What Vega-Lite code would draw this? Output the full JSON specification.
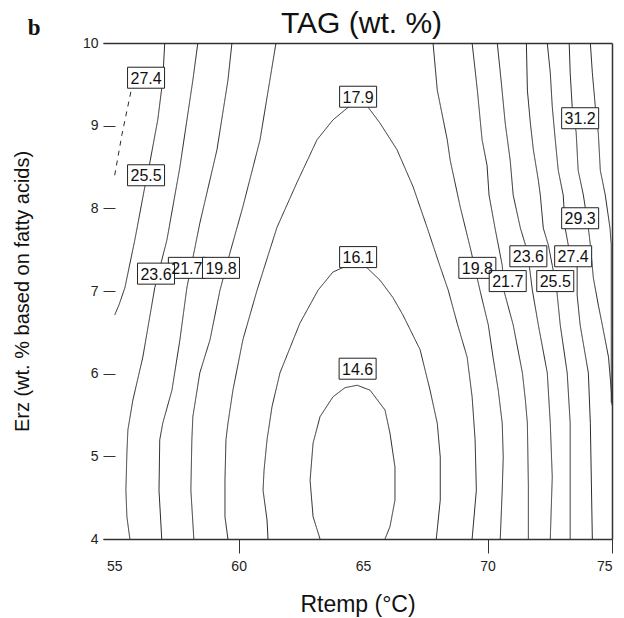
{
  "$schema": "https://vega.github.io/schema/vega-lite/v6.json",
  "width": 509,
  "height": 496,
  "autosize": {"type": "none"},
  "padding": {"left": 103, "top": 43, "right": 12, "bottom": 79},
  "background": "white",
  "config": {"view": {"stroke": null}, "font": "Liberation Sans"},
  "title": {"text": "TAG (wt. %)", "fontSize": 30, "fontWeight": "normal", "font": "Liberation Sans", "color": "#111", "offset": -22, "anchor": "middle", "frame": "group", "dx": 4},
  "datasets": {
    "contours": [
      {"id": "27.4L", "i": 0, "x": 55.02, "y": 8.40}, {"id": "27.4L", "i": 1, "x": 55.31, "y": 8.89}, {"id": "27.4L", "i": 2, "x": 55.67, "y": 9.41}, {"id": "27.4L", "i": 3, "x": 55.87, "y": 9.65},
      {"id": "25.5L", "i": 0, "x": 57.03, "y": 10.0}, {"id": "25.5L", "i": 1, "x": 56.95, "y": 9.55}, {"id": "25.5L", "i": 2, "x": 56.75, "y": 9.07}, {"id": "25.5L", "i": 3, "x": 56.43, "y": 8.55}, {"id": "25.5L", "i": 4, "x": 56.23, "y": 8.26}, {"id": "25.5L", "i": 5, "x": 55.83, "y": 7.62}, {"id": "25.5L", "i": 6, "x": 55.43, "y": 7.04}, {"id": "25.5L", "i": 7, "x": 55.19, "y": 6.83}, {"id": "25.5L", "i": 8, "x": 55.02, "y": 6.71},
      {"id": "23.6L", "i": 0, "x": 58.36, "y": 10.0}, {"id": "23.6L", "i": 1, "x": 58.16, "y": 9.55}, {"id": "23.6L", "i": 2, "x": 57.64, "y": 8.50}, {"id": "23.6L", "i": 3, "x": 57.12, "y": 7.62}, {"id": "23.6L", "i": 4, "x": 56.63, "y": 7.04}, {"id": "23.6L", "i": 5, "x": 56.15, "y": 6.20}, {"id": "23.6L", "i": 6, "x": 55.75, "y": 5.68}, {"id": "23.6L", "i": 7, "x": 55.55, "y": 5.32}, {"id": "23.6L", "i": 8, "x": 55.51, "y": 5.04}, {"id": "23.6L", "i": 9, "x": 55.47, "y": 4.59}, {"id": "23.6L", "i": 10, "x": 55.51, "y": 4.27}, {"id": "23.6L", "i": 11, "x": 55.63, "y": 4.0},
      {"id": "21.7L", "i": 0, "x": 59.73, "y": 10.0}, {"id": "21.7L", "i": 1, "x": 59.57, "y": 9.55}, {"id": "21.7L", "i": 2, "x": 59.13, "y": 8.71}, {"id": "21.7L", "i": 3, "x": 58.44, "y": 7.82}, {"id": "21.7L", "i": 4, "x": 57.92, "y": 7.04}, {"id": "21.7L", "i": 5, "x": 57.64, "y": 6.41}, {"id": "21.7L", "i": 6, "x": 57.32, "y": 5.80}, {"id": "21.7L", "i": 7, "x": 56.95, "y": 5.40}, {"id": "21.7L", "i": 8, "x": 56.83, "y": 5.20}, {"id": "21.7L", "i": 9, "x": 56.80, "y": 4.59}, {"id": "21.7L", "i": 10, "x": 56.91, "y": 4.0},
      {"id": "19.8L", "i": 0, "x": 61.50, "y": 10.0}, {"id": "19.8L", "i": 1, "x": 60.86, "y": 8.83}, {"id": "19.8L", "i": 2, "x": 60.17, "y": 8.02}, {"id": "19.8L", "i": 3, "x": 59.65, "y": 7.46}, {"id": "19.8L", "i": 4, "x": 59.25, "y": 7.01}, {"id": "19.8L", "i": 5, "x": 58.85, "y": 6.41}, {"id": "19.8L", "i": 6, "x": 58.44, "y": 6.01}, {"id": "19.8L", "i": 7, "x": 58.16, "y": 5.48}, {"id": "19.8L", "i": 8, "x": 58.12, "y": 5.20}, {"id": "19.8L", "i": 9, "x": 58.08, "y": 4.59}, {"id": "19.8L", "i": 10, "x": 58.20, "y": 4.0},
      {"id": "17.9", "i": 0, "x": 59.57, "y": 4.0}, {"id": "17.9", "i": 1, "x": 59.45, "y": 4.27}, {"id": "17.9", "i": 2, "x": 59.45, "y": 4.71}, {"id": "17.9", "i": 3, "x": 59.49, "y": 5.20}, {"id": "17.9", "i": 4, "x": 59.57, "y": 5.40}, {"id": "17.9", "i": 5, "x": 59.77, "y": 5.80}, {"id": "17.9", "i": 6, "x": 60.17, "y": 6.41}, {"id": "17.9", "i": 7, "x": 60.74, "y": 7.01}, {"id": "17.9", "i": 8, "x": 61.54, "y": 7.77}, {"id": "17.9", "i": 9, "x": 62.34, "y": 8.31}, {"id": "17.9", "i": 10, "x": 63.15, "y": 8.83}, {"id": "17.9", "i": 11, "x": 63.79, "y": 9.07}, {"id": "17.9", "i": 12, "x": 64.35, "y": 9.21}, {"id": "17.9", "i": 13, "x": 64.76, "y": 9.29}, {"id": "17.9", "i": 14, "x": 65.16, "y": 9.24}, {"id": "17.9", "i": 15, "x": 65.68, "y": 9.03}, {"id": "17.9", "i": 16, "x": 66.36, "y": 8.71}, {"id": "17.9", "i": 17, "x": 67.01, "y": 8.26}, {"id": "17.9", "i": 18, "x": 67.57, "y": 7.77}, {"id": "17.9", "i": 19, "x": 68.10, "y": 7.29}, {"id": "17.9", "i": 20, "x": 68.42, "y": 7.01}, {"id": "17.9", "i": 21, "x": 68.78, "y": 6.61}, {"id": "17.9", "i": 22, "x": 69.18, "y": 6.20}, {"id": "17.9", "i": 23, "x": 69.38, "y": 5.72}, {"id": "17.9", "i": 24, "x": 69.50, "y": 5.20}, {"id": "17.9", "i": 25, "x": 69.55, "y": 4.59}, {"id": "17.9", "i": 26, "x": 69.38, "y": 4.0},
      {"id": "16.1", "i": 0, "x": 61.18, "y": 4.0}, {"id": "16.1", "i": 1, "x": 61.14, "y": 4.23}, {"id": "16.1", "i": 2, "x": 60.98, "y": 4.59}, {"id": "16.1", "i": 3, "x": 61.02, "y": 4.83}, {"id": "16.1", "i": 4, "x": 61.14, "y": 5.20}, {"id": "16.1", "i": 5, "x": 61.34, "y": 5.60}, {"id": "16.1", "i": 6, "x": 61.66, "y": 6.01}, {"id": "16.1", "i": 7, "x": 62.46, "y": 6.61}, {"id": "16.1", "i": 8, "x": 63.19, "y": 7.01}, {"id": "16.1", "i": 9, "x": 63.79, "y": 7.23}, {"id": "16.1", "i": 10, "x": 64.68, "y": 7.35}, {"id": "16.1", "i": 11, "x": 65.16, "y": 7.28}, {"id": "16.1", "i": 12, "x": 65.68, "y": 7.13}, {"id": "16.1", "i": 13, "x": 66.20, "y": 6.92}, {"id": "16.1", "i": 14, "x": 66.60, "y": 6.71}, {"id": "16.1", "i": 15, "x": 67.29, "y": 6.29}, {"id": "16.1", "i": 16, "x": 67.69, "y": 5.80}, {"id": "16.1", "i": 17, "x": 67.98, "y": 5.40}, {"id": "16.1", "i": 18, "x": 68.10, "y": 4.99}, {"id": "16.1", "i": 19, "x": 68.10, "y": 4.47}, {"id": "16.1", "i": 20, "x": 67.94, "y": 4.0},
      {"id": "14.6", "i": 0, "x": 63.27, "y": 4.0}, {"id": "14.6", "i": 1, "x": 62.99, "y": 4.27}, {"id": "14.6", "i": 2, "x": 62.87, "y": 4.71}, {"id": "14.6", "i": 3, "x": 62.99, "y": 5.16}, {"id": "14.6", "i": 4, "x": 63.27, "y": 5.48}, {"id": "14.6", "i": 5, "x": 63.79, "y": 5.72}, {"id": "14.6", "i": 6, "x": 64.27, "y": 5.83}, {"id": "14.6", "i": 7, "x": 64.76, "y": 5.86}, {"id": "14.6", "i": 8, "x": 65.28, "y": 5.80}, {"id": "14.6", "i": 9, "x": 65.88, "y": 5.56}, {"id": "14.6", "i": 10, "x": 66.08, "y": 5.28}, {"id": "14.6", "i": 11, "x": 66.28, "y": 4.87}, {"id": "14.6", "i": 12, "x": 66.28, "y": 4.47}, {"id": "14.6", "i": 13, "x": 66.08, "y": 4.15}, {"id": "14.6", "i": 14, "x": 65.88, "y": 4.0},
      {"id": "19.8R", "i": 0, "x": 67.81, "y": 10.0}, {"id": "19.8R", "i": 1, "x": 67.98, "y": 9.43}, {"id": "19.8R", "i": 2, "x": 68.38, "y": 8.83}, {"id": "19.8R", "i": 3, "x": 68.50, "y": 8.58}, {"id": "19.8R", "i": 4, "x": 68.90, "y": 8.02}, {"id": "19.8R", "i": 5, "x": 69.30, "y": 7.53}, {"id": "19.8R", "i": 6, "x": 69.71, "y": 6.99}, {"id": "19.8R", "i": 7, "x": 70.03, "y": 6.59}, {"id": "19.8R", "i": 8, "x": 70.22, "y": 6.20}, {"id": "19.8R", "i": 9, "x": 70.43, "y": 5.80}, {"id": "19.8R", "i": 10, "x": 70.59, "y": 5.40}, {"id": "19.8R", "i": 11, "x": 70.63, "y": 4.99}, {"id": "19.8R", "i": 12, "x": 70.59, "y": 4.59}, {"id": "19.8R", "i": 13, "x": 70.51, "y": 4.0},
      {"id": "21.7R", "i": 0, "x": 69.38, "y": 10.0}, {"id": "21.7R", "i": 1, "x": 69.59, "y": 9.43}, {"id": "21.7R", "i": 2, "x": 69.78, "y": 8.83}, {"id": "21.7R", "i": 3, "x": 69.98, "y": 8.52}, {"id": "21.7R", "i": 4, "x": 70.06, "y": 8.16}, {"id": "21.7R", "i": 5, "x": 70.30, "y": 7.76}, {"id": "21.7R", "i": 6, "x": 70.59, "y": 7.31}, {"id": "21.7R", "i": 7, "x": 70.67, "y": 6.99}, {"id": "21.7R", "i": 8, "x": 71.03, "y": 6.59}, {"id": "21.7R", "i": 9, "x": 71.40, "y": 6.01}, {"id": "21.7R", "i": 10, "x": 71.52, "y": 5.68}, {"id": "21.7R", "i": 11, "x": 71.60, "y": 5.40}, {"id": "21.7R", "i": 12, "x": 71.64, "y": 4.63}, {"id": "21.7R", "i": 13, "x": 71.64, "y": 4.0},
      {"id": "23.6R", "i": 0, "x": 70.39, "y": 10.0}, {"id": "23.6R", "i": 1, "x": 70.55, "y": 9.53}, {"id": "23.6R", "i": 2, "x": 70.71, "y": 9.03}, {"id": "23.6R", "i": 3, "x": 70.91, "y": 8.58}, {"id": "23.6R", "i": 4, "x": 71.03, "y": 8.16}, {"id": "23.6R", "i": 5, "x": 71.32, "y": 7.76}, {"id": "23.6R", "i": 6, "x": 71.52, "y": 7.56}, {"id": "23.6R", "i": 7, "x": 71.68, "y": 7.30}, {"id": "23.6R", "i": 8, "x": 71.80, "y": 7.01}, {"id": "23.6R", "i": 9, "x": 72.04, "y": 6.59}, {"id": "23.6R", "i": 10, "x": 72.40, "y": 6.01}, {"id": "23.6R", "i": 11, "x": 72.52, "y": 5.40}, {"id": "23.6R", "i": 12, "x": 72.60, "y": 4.75}, {"id": "23.6R", "i": 13, "x": 72.52, "y": 4.0},
      {"id": "25.5R", "i": 0, "x": 71.56, "y": 10.0}, {"id": "25.5R", "i": 1, "x": 71.60, "y": 9.43}, {"id": "25.5R", "i": 2, "x": 71.72, "y": 9.03}, {"id": "25.5R", "i": 3, "x": 71.84, "y": 8.71}, {"id": "25.5R", "i": 4, "x": 72.04, "y": 8.34}, {"id": "25.5R", "i": 5, "x": 72.12, "y": 8.16}, {"id": "25.5R", "i": 6, "x": 72.24, "y": 7.76}, {"id": "25.5R", "i": 7, "x": 72.44, "y": 7.56}, {"id": "25.5R", "i": 8, "x": 72.60, "y": 7.31}, {"id": "25.5R", "i": 9, "x": 72.76, "y": 7.07}, {"id": "25.5R", "i": 10, "x": 72.92, "y": 6.59}, {"id": "25.5R", "i": 11, "x": 73.20, "y": 6.01}, {"id": "25.5R", "i": 12, "x": 73.32, "y": 5.40}, {"id": "25.5R", "i": 13, "x": 73.32, "y": 4.0},
      {"id": "27.4R", "i": 0, "x": 72.40, "y": 10.0}, {"id": "27.4R", "i": 1, "x": 72.52, "y": 9.64}, {"id": "27.4R", "i": 2, "x": 72.60, "y": 9.23}, {"id": "27.4R", "i": 3, "x": 72.72, "y": 8.83}, {"id": "27.4R", "i": 4, "x": 72.84, "y": 8.46}, {"id": "27.4R", "i": 5, "x": 73.04, "y": 8.16}, {"id": "27.4R", "i": 6, "x": 73.12, "y": 7.76}, {"id": "27.4R", "i": 7, "x": 73.24, "y": 7.56}, {"id": "27.4R", "i": 8, "x": 73.44, "y": 7.42}, {"id": "27.4R", "i": 9, "x": 73.60, "y": 7.30}, {"id": "27.4R", "i": 10, "x": 73.60, "y": 6.95}, {"id": "27.4R", "i": 11, "x": 73.72, "y": 6.59}, {"id": "27.4R", "i": 12, "x": 74.05, "y": 6.01}, {"id": "27.4R", "i": 13, "x": 74.13, "y": 5.40}, {"id": "27.4R", "i": 14, "x": 74.21, "y": 4.0},
      {"id": "29.3R", "i": 0, "x": 73.28, "y": 10.0}, {"id": "29.3R", "i": 1, "x": 73.32, "y": 9.64}, {"id": "29.3R", "i": 2, "x": 73.40, "y": 9.23}, {"id": "29.3R", "i": 3, "x": 73.56, "y": 8.92}, {"id": "29.3R", "i": 4, "x": 73.64, "y": 8.46}, {"id": "29.3R", "i": 5, "x": 73.85, "y": 8.16}, {"id": "29.3R", "i": 6, "x": 74.05, "y": 7.76}, {"id": "29.3R", "i": 7, "x": 74.13, "y": 7.56}, {"id": "29.3R", "i": 8, "x": 74.25, "y": 7.16}, {"id": "29.3R", "i": 9, "x": 74.45, "y": 6.83}, {"id": "29.3R", "i": 10, "x": 74.61, "y": 6.59}, {"id": "29.3R", "i": 11, "x": 74.86, "y": 6.20}, {"id": "29.3R", "i": 12, "x": 74.97, "y": 5.80}, {"id": "29.3R", "i": 13, "x": 75.0, "y": 5.62},
      {"id": "31.2R", "i": 0, "x": 74.13, "y": 10.0}, {"id": "31.2R", "i": 1, "x": 74.21, "y": 9.64}, {"id": "31.2R", "i": 2, "x": 74.33, "y": 9.23}, {"id": "31.2R", "i": 3, "x": 74.45, "y": 8.91}, {"id": "31.2R", "i": 4, "x": 74.53, "y": 8.46}, {"id": "31.2R", "i": 5, "x": 74.73, "y": 8.16}, {"id": "31.2R", "i": 6, "x": 74.92, "y": 7.76}, {"id": "31.2R", "i": 7, "x": 74.97, "y": 7.56}, {"id": "31.2R", "i": 8, "x": 74.97, "y": 6.5}, {"id": "31.2R", "i": 9, "x": 74.97, "y": 5.65}
    ],
    "labels": [
      {"label": "27.4", "x": 56.28, "y": 9.58},
      {"label": "25.5", "x": 56.28, "y": 8.40},
      {"label": "21.7", "x": 57.92, "y": 7.28},
      {"label": "19.8", "x": 59.29, "y": 7.28},
      {"label": "23.6", "x": 56.68, "y": 7.21},
      {"label": "17.9", "x": 64.80, "y": 9.35},
      {"label": "16.1", "x": 64.80, "y": 7.41},
      {"label": "14.6", "x": 64.78, "y": 6.06},
      {"label": "19.8", "x": 69.59, "y": 7.28},
      {"label": "21.7", "x": 70.81, "y": 7.12},
      {"label": "23.6", "x": 71.64, "y": 7.42},
      {"label": "25.5", "x": 72.72, "y": 7.12},
      {"label": "27.4", "x": 73.44, "y": 7.42},
      {"label": "29.3", "x": 73.72, "y": 7.88},
      {"label": "31.2", "x": 73.72, "y": 9.09}
    ]
  },
  "layer": [
    {
      "data": {"name": "contours"},
      "mark": {"type": "line", "clip": true, "color": "#2a2a2a", "strokeWidth": 1},
      "encoding": {
        "x": {"field": "x", "type": "quantitative", "scale": {"domain": [54.55, 75], "nice": false, "zero": false},
          "axis": {"orient": "bottom", "values": [55, 60, 65, 70, 75], "grid": false, "domain": true, "domainColor": "#333", "domainWidth": 1.5,
            "tickSize": 14, "tickWidth": 1, "tickColor": {"condition": {"test": "datum.value === 55 || datum.value === 65", "value": "transparent"}, "value": "#333"},
            "labelPadding": 6, "labelFontSize": 14, "labelColor": "#222", "labelFont": "Liberation Sans",
            "title": "Rtemp (°C)", "titleFontSize": 23, "titleFontWeight": "normal", "titleColor": "#111", "titlePadding": 20, "titleFont": "Liberation Sans"}},
        "y": {"field": "y", "type": "quantitative", "scale": {"domain": [4, 10], "nice": false, "zero": false},
          "axis": {"orient": "left", "values": [4, 5, 6, 7, 8, 9, 10], "grid": false, "domain": false, "offset": -12,
            "tickSize": 12, "tickWidth": 1, "tickColor": "#333", "labelPadding": 5, "labelFontSize": 14, "labelColor": "#222", "labelFont": "Liberation Sans",
            "title": "Erz (wt. % based on fatty acids)", "titleFontSize": 20, "titleFontWeight": "normal", "titleColor": "#111", "titlePadding": 50, "titleFont": "Liberation Sans"}},
        "detail": {"field": "id", "type": "nominal"},
        "order": {"field": "i", "type": "quantitative"},
        "strokeDash": {"condition": {"test": "datum.id === '27.4L'", "value": [5, 5]}, "value": [1, 0]}
      }
    },
    {
      "data": {"name": "labels"},
      "mark": {"type": "point", "shape": "M-1,-0.5676L1,-0.5676L1,0.5676L-1,0.5676Z", "size": 1369, "filled": true, "fill": "white", "stroke": "#222", "strokeWidth": 1, "opacity": 1, "fillOpacity": 1, "strokeOpacity": 1},
      "encoding": {
        "x": {"field": "x", "type": "quantitative", "scale": {"domain": [54.55, 75], "nice": false, "zero": false},
          "axis": {"orient": "top", "domain": true, "domainColor": "#333", "domainWidth": 1.5, "ticks": false, "labels": false, "grid": false, "title": null}},
        "y": {"field": "y", "type": "quantitative", "scale": {"domain": [4, 10], "nice": false, "zero": false},
          "axis": {"orient": "right", "domain": true, "domainColor": "#333", "domainWidth": 1.5, "ticks": false, "labels": false, "grid": false, "title": null}}
      }
    },
    {
      "data": {"name": "labels"},
      "mark": {"type": "text", "fontSize": 16, "font": "Liberation Sans", "color": "#111", "align": "center", "baseline": "middle", "dy": 1},
      "encoding": {
        "x": {"field": "x", "type": "quantitative", "axis": null},
        "y": {"field": "y", "type": "quantitative", "axis": null},
        "text": {"field": "label", "type": "nominal"}
      }
    },
    {
      "data": {"values": [{"tag": "b"}]},
      "mark": {"type": "text", "fontSize": 23, "font": "Liberation Serif", "fontWeight": "bold", "color": "#111", "align": "center", "baseline": "alphabetic", "clip": false},
      "encoding": {
        "x": {"datum": 51.78, "type": "quantitative", "axis": null},
        "y": {"datum": 10.097, "type": "quantitative", "axis": null},
        "text": {"field": "tag", "type": "nominal"}
      }
    }
  ],
  "resolve": {"axis": {"x": "independent", "y": "independent"}}
}
